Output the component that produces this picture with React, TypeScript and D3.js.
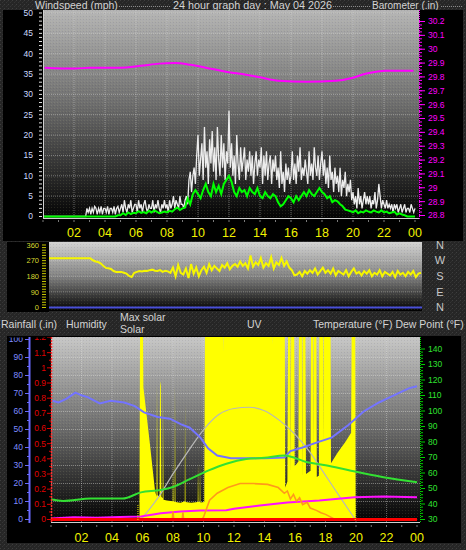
import React from "react";
import * as d3 from "d3";

const hourLabels = ["02", "04", "06", "08", "10", "12", "14", "16", "18", "20", "22", "00"];
const hourLabelHours = [2, 4, 6, 8, 10, 12, 14, 16, 18, 20, 22, 24];
const windTicks = [0, 5, 10, 15, 20, 25, 30, 35, 40, 45, 50];
const baroTicks = [28.8, 28.9, 29, 29.1, 29.2, 29.3, 29.4, 29.5, 29.6, 29.7, 29.8, 29.9, 30, 30.1, 30.2];
const dirTicks = [0, 90, 180, 270, 360];
const compassLabels = ["N", "E", "S", "W", "N"];
const humTicks = [0, 10, 20, 30, 40, 50, 60, 70, 80, 90, 100];
const rainTicks = [0, 0.1, 0.2, 0.3, 0.4, 0.5, 0.6, 0.7, 0.8, 0.9, 1, 1.1, 1.2];
const tempTicks = [30, 40, 50, 60, 70, 80, 90, 100, 110, 120, 130, 140];

// wind gust, mph, every 5 minutes from 00:00 to 24:00
const windGust = [
  0, 0, 0, 0, 0, 0, 0, 0, 0, 0, 0, 0,
  0, 0, 0, 0, 0, 0, 0, 0, 0, 0, 0, 0,
  0, 0, 0, 0, 0, 0, 0, 0, 0, 0, 2, 1,
  2, 0.5, 2, 1, 2.5, 2, 0.5, 2, 1, 2.5, 0.5, 2,
  2, 1, 2.5, 0.5, 2, 2, 1, 2.5, 0.5, 2, 2.5, 1,
  2, 3, 1, 4, 2, 1, 3, 2, 4, 1, 2, 3,
  3, 1, 4, 2, 3, 1, 3, 4, 2, 1, 3, 2,
  2, 4, 1, 3, 2, 4, 2, 1, 3, 2, 4, 2,
  3, 1, 4, 2, 3, 5, 2, 4, 3, 2, 5, 3,
  3, 2, 4, 5, 3, 9, 11, 6, 10, 12, 8, 15,
  20, 10, 14, 18, 9, 22, 12, 16, 8, 19, 13, 21,
  11, 17, 9, 22, 14, 10, 20, 12, 18, 9, 16, 13,
  26, 12, 18, 10, 15, 8, 20, 13, 9, 17, 11, 14,
  17, 9, 14, 11, 16, 10, 15, 8, 13, 16, 10, 14,
  12, 17, 8, 15, 10, 16, 9, 13, 15, 8, 14, 11,
  15, 9, 12, 7, 16, 8, 11, 6, 13, 9, 12, 8,
  10, 16, 9, 13, 8, 15, 11, 17, 9, 12, 10, 14,
  11, 8, 16, 10, 13, 9, 17, 12, 10, 15, 9, 13,
  16, 10, 14, 8, 12, 7, 15, 9, 11, 6, 12, 8,
  10, 6, 12, 5, 9, 7, 11, 5, 8, 6, 9, 4,
  6, 3, 5, 2, 7, 3, 5, 2, 4, 6, 3, 5,
  3, 5, 2, 4, 3, 6, 2, 4, 8, 5, 2, 4,
  3, 2, 4, 2, 3, 2, 3, 1, 3, 2, 3, 1,
  2, 3, 1, 2, 3, 1, 2, 2, 1, 3, 2, 1,
  2,
];

// average wind speed, mph, every 10 minutes
const windSpeed = [
  0, 0, 0, 0, 0, 0,
  0, 0, 0, 0, 0, 0,
  0, 0, 0, 0, 0, 0,
  0, 0, 0, 0, 0, 0,
  0, 0, 0, 0, 0, 0.3,
  0.3, 0.8, 0.4, 1, 0.6, 0.9,
  0.8, 1.3, 0.9, 1.1, 0.8, 1.4,
  1, 1.5, 1.2, 0.8, 1, 1.2,
  1, 1.4, 1.2, 1.8, 2.2, 1.6,
  2, 2.2, 4.5, 3, 5.5, 6.5,
  5.5, 4.5, 6.5, 8, 6, 5,
  8, 6, 7.5, 5.5, 8, 9,
  10, 8.5, 6, 5, 7, 6,
  6.5, 5, 7, 6, 5.5, 7,
  5, 4.5, 6, 5, 4.5, 5.5,
  5, 3.5, 2.5, 3, 4, 5,
  4.5, 3.5, 5, 4, 5, 6,
  5, 6.5, 5.5, 5, 6, 7,
  6, 5.5, 4.5, 5, 3.5, 4,
  3.7, 3, 2.5, 1.7, 1.5, 1.3,
  1, 1.5, 0.8, 1.2, 1, 1.5,
  1.2, 1, 1.5, 1.2, 1, 1.5,
  1, 1.2, 0.8, 1, 1.2, 0.5,
  0.8, 0.5, 0.3, 0, 0, 0,
  0,
];

// wind direction, degrees, every 10 minutes
const windDir = [
  283, 283, 283, 283, 283, 283,
  283, 283, 283, 283, 283, 283,
  283, 283, 283, 283, 283, 272,
  265, 262, 255, 240, 228, 226,
  222, 210, 205, 205, 205, 200,
  195, 182, 176, 200, 205, 210,
  208, 212, 210, 215, 218, 212,
  210, 215, 205, 212, 208, 200,
  230, 180, 245, 200, 190, 225,
  170, 250, 195, 230, 180, 215,
  235, 200, 250, 215, 240, 225,
  210, 245, 230, 255, 220, 240,
  250, 235, 265, 240, 255, 225,
  300, 235, 260, 245, 285, 230,
  255, 240, 290, 225, 260, 245,
  285, 240, 265, 230, 215, 185,
  190, 205, 180, 210, 195, 215,
  200, 225, 190, 210, 230, 200,
  215, 195, 225, 185, 210, 200,
  190, 215, 180, 205, 225, 195,
  205, 185, 210, 195, 215, 180,
  200, 190, 215, 180, 205, 195,
  185, 205, 175, 210, 190, 200,
  180, 205, 190, 210, 175, 195,
  200,
];

const baroHours = [0.1, 2.1, 3.0, 5.0, 6.3, 7.5, 8.5, 9.5, 10.5, 11.8, 13.1, 13.9, 15.2, 17.0, 18.9, 20.0, 20.8, 21.5, 22.1, 23.9];
const baroValues = [29.867, 29.86, 29.867, 29.867, 29.88, 29.896, 29.9, 29.888, 29.867, 29.838, 29.816, 29.8, 29.772, 29.765, 29.772, 29.794, 29.823, 29.838, 29.845, 29.845];

const humHours = [0.1, 0.5, 1.0, 1.6, 2.0, 2.4, 3.2, 3.9, 4.8, 5.5, 6.1, 7.0, 7.8, 8.5, 9.1, 9.8, 10.3, 10.9, 11.8, 12.9, 14.0, 15.3, 15.7, 16.5, 17.5, 18.4, 19.5, 20.5, 21.5, 22.0, 23.0, 23.5, 24.0];
const humValues = [66, 65, 67, 70.5, 69, 68, 64.5, 66, 65, 63, 59.5, 57, 56, 53, 51, 45.5, 39.5, 35.5, 34, 34, 34, 34.5, 38, 40, 43, 45.5, 52.5, 60, 65, 67, 71, 73, 74];

const tempHours = [0, 0.8, 2.6, 4.7, 5.9, 7.2, 8.0, 9.1, 10.3, 11.5, 12.8, 14.0, 15.3, 16.8, 18.0, 19.6, 21.8, 24.0];
const tempValues = [43, 42, 43.5, 43.5, 47.5, 49, 51, 56, 61.5, 66, 69, 69.8, 71.3, 67, 65, 61.6, 57.3, 54];

const dewHours = [0, 1.5, 3.0, 4.5, 5.9, 7.2, 8.5, 9.8, 11.5, 12.0, 13.7, 15.5, 17.6, 19.9, 21.8, 24.0];
const dewValues = [30.6, 31.5, 31.2, 31.6, 32, 34, 35.2, 35.8, 36, 37, 39, 41, 42.3, 44.4, 44.8, 44.4];

const uvHours = [0, 7.95, 8.0, 8.05, 8.6, 8.65, 8.7, 9.9, 10.0, 10.4, 10.9, 11.6, 12.4, 13.3, 14.2, 14.9, 15.3, 15.5, 15.7, 15.9, 16.1, 16.3, 16.5, 16.8, 17.0, 17.4, 17.7, 18.0, 18.5, 18.6, 24];
const uvValues = [0, 0, 0.7, 0, 0, 0.6, 0, 0, 0.2, 1.7, 2.3, 2.8, 3.15, 3.15, 3.08, 2.8, 2.3, 2.5, 1.8, 2.2, 1.6, 1.9, 1.3, 1.5, 1.0, 0.8, 0.6, 0.45, 0.1, 0, 0];

const solarHours = [0, 5.8, 5.84, 6.03, 6.06, 6.45, 6.82, 6.92, 6.95, 6.99, 7.12, 7.15, 7.2, 7.24, 7.32, 7.34, 7.38, 7.6, 7.98, 8.0, 8.03, 8.11, 8.13, 8.16, 8.5, 8.77, 8.79, 8.82, 9.2, 9.62, 9.64, 9.67, 9.75, 9.77, 9.8, 10.05, 10.1, 11.28, 11.3, 11.33, 14.5, 14.52, 14.55, 15.33, 15.36, 15.5, 15.55, 15.7, 15.72, 15.75, 15.95, 15.98, 16.22, 16.26, 16.45, 16.47, 16.5, 16.68, 16.72, 17.02, 17.05, 17.2, 17.22, 17.24, 17.4, 17.43, 17.57, 17.6, 17.85, 17.87, 17.9, 18.33, 18.36, 18.8, 19.3, 19.68, 19.72, 19.95, 19.98, 24];
const solarValues = [0, 0, 1300, 1300, 870, 530, 190, 150, 900, 160, 150, 910, 880, 150, 140, 870, 130, 125, 120, 390, 120, 115, 890, 115, 110, 120, 765, 115, 110, 115, 370, 115, 115, 370, 112, 115, 1300, 1300, 1100, 1300, 1300, 1150, 1300, 1300, 210, 250, 1300, 1300, 300, 1300, 1300, 350, 380, 1300, 1300, 260, 1300, 1300, 300, 320, 1300, 1300, 420, 1300, 1300, 280, 290, 1300, 1300, 500, 1300, 1300, 370, 440, 510, 570, 1300, 1300, 0, 0];

const maxSolarHours = [5.9, 7, 8, 9, 10, 11, 12, 13, 14, 15, 16, 17, 18, 19, 19.95];
const maxSolarValues = [0, 140, 300, 450, 590, 690, 730, 738, 715, 650, 560, 440, 290, 140, 0];

const sunMarkers = [5.7, 19.95];

const rainHours = [0, 24];
const rainValues = [0, 0];

const fmt = (v: number) => String(+v.toFixed(2));

export default function App() {
  const xTop = d3.scaleLinear().domain([0, 24]).range([43, 415]);
  const yWind = d3.scaleLinear().domain([0, 50]).range([216.5, 13]);
  const yBaro = d3.scaleLinear().domain([28.8, 30.2]).range([215.5, 21.5]);
  const xMid = d3.scaleLinear().domain([0, 24]).range([49, 421]);
  const yDir = d3.scaleLinear().domain([0, 360]).range([307.5, 245]);
  const xBot = d3.scaleLinear().domain([0, 24]).range([51, 417]);
  const yHum = d3.scaleLinear().domain([0, 100]).range([519.5, 339.5]);
  const yRain = d3.scaleLinear().domain([0, 1.2]).range([519.5, 337.5]);
  const yTemp = d3.scaleLinear().domain([30, 140]).range([519.5, 349]);
  const ySolar = d3.scaleLinear().domain([0, 1200]).range([519.5, 337]);
  const yUV = d3.scaleLinear().domain([0, 16]).range([519.5, 337]);

  const idxLine = (arr: number[], step: number, x: any, y: any) =>
    d3.line<number>().x((_, i) => x(i * step)).y((d) => y(d))(arr) || "";
  const pairLine = (hrs: number[], vals: number[], x: any, y: any, curve: any = d3.curveLinear) =>
    d3.line<number>().curve(curve).x((_, i) => x(hrs[i])).y((d) => y(d))(vals) || "";
  const solarArea =
    d3.area<number>().x((_, i) => xBot(solarHours[i])).y0(ySolar(0)).y1((d) => ySolar(d))(solarValues) || "";

  const top = { x0: 43, x1: 419, y0: 10, y1: 219 };
  const mid = { x0: 49, x1: 422, y0: 242, y1: 311 };
  const bot = { x0: 51, x1: 420, y0: 337, y1: 523 };
  const font = "'Liberation Sans', Arial, sans-serif";
  const hours = d3.range(0, 25);
  const windMinor = d3.range(0, 51);
  const baroMinor = d3.range(0, 57).map((i) => 28.8 + i * 0.025);
  const dirMinor = d3.range(0, 25).map((i) => i * 15);
  const humMinor = d3.range(0, 21).map((i) => i * 5);
  const rainMinor = d3.range(0, 25).map((i) => i * 0.05);
  const tempMinor = d3.range(0, 56).map((i) => 30 + i * 2);

  return (
    <svg width={466} height={550} style={{ position: "absolute", left: 0, top: 0 }} fontFamily={font}>
      <defs>
        <pattern id="noise" width="4" height="4" patternUnits="userSpaceOnUse">
          <rect width="4" height="4" fill="#262626" />
          <rect x="0" y="0" width="1" height="1" fill="#3e3e3e" />
          <rect x="2" y="2" width="1" height="1" fill="#353535" />
          <rect x="3" y="1" width="1" height="1" fill="#2f2f2f" />
        </pattern>
        <pattern id="stipple" width="3" height="3" patternUnits="userSpaceOnUse">
          <rect x="0" y="0" width="1" height="1" fill="#d8d8a0" fillOpacity="0.12" />
          <rect x="2" y="1" width="1" height="1" fill="#000" fillOpacity="0.08" />
        </pattern>
        <linearGradient id="gTop" x1="0" y1="0" x2="0" y2="1">
          <stop offset="0" stopColor="#b6b6b6" />
          <stop offset="0.45" stopColor="#6e6e6e" />
          <stop offset="1" stopColor="#020202" />
        </linearGradient>
        <linearGradient id="gMid" x1="0" y1="0" x2="0" y2="1">
          <stop offset="0" stopColor="#d4d4d4" />
          <stop offset="0.5" stopColor="#828282" />
          <stop offset="1" stopColor="#000000" />
        </linearGradient>
        <linearGradient id="gBot" x1="0" y1="0" x2="0" y2="1">
          <stop offset="0" stopColor="#c8c8c8" />
          <stop offset="0.5" stopColor="#6a6a6a" />
          <stop offset="1" stopColor="#000000" />
        </linearGradient>
        <clipPath id="cTop"><rect x={top.x0} y={top.y0} width={top.x1 - top.x0} height={top.y1 - top.y0} /></clipPath>
        <clipPath id="cMid"><rect x={mid.x0} y={mid.y0} width={mid.x1 - mid.x0} height={mid.y1 - mid.y0} /></clipPath>
        <clipPath id="cBot"><rect x={bot.x0} y={bot.y0} width={bot.x1 - bot.x0} height={bot.y1 - bot.y0} /></clipPath>
        <clipPath id="cBotPanel"><rect x={0} y={337.5} width={466} height={214} /></clipPath>
      </defs>

      <rect x={0} y={0} width={466} height={550} fill="url(#noise)" />

      {/* ---------- title row ---------- */}
      <g fontSize={10.5} fill="#d4d4d4">
        <text x={35} y={9.3}>Windspeed (mph)</text>
        <text x={173} y={9.3} fontSize={10.8}>24 hour graph day : May 04 2026</text>
        <text x={372} y={9.3} fontSize={10}>Barometer (.in)</text>
      </g>
      <g stroke="#8a8a8a" strokeDasharray="1 1" strokeWidth={1}>
        <line x1={119} x2={171} y1={6.5} y2={6.5} />
        <line x1={331} x2={370} y1={6.5} y2={6.5} />
        <line x1={441} x2={462} y1={6.5} y2={6.5} />
      </g>

      {/* ---------- top panel ---------- */}
      <rect x={3} y={10} width={460} height={231} fill="#000" />
      <rect x={top.x0} y={top.y0} width={top.x1 - top.x0} height={top.y1 - top.y0} fill="url(#gTop)" />
      <rect x={top.x0} y={top.y0} width={top.x1 - top.x0} height={top.y1 - top.y0} fill="url(#stipple)" />
      <g stroke="#d8d8d8" strokeOpacity={0.45} strokeDasharray="1 1">
        {hourLabelHours.slice(0, 11).map((h) => (
          <line key={"tv" + h} x1={xTop(h)} x2={xTop(h)} y1={top.y0} y2={top.y1} />
        ))}
        {windTicks.slice(1).map((v) => (
          <line key={"th" + v} x1={top.x0} x2={top.x1} y1={yWind(v)} y2={yWind(v)} />
        ))}
      </g>
      <g clipPath="url(#cTop)" fill="none">
        <path d={idxLine(windGust, 1 / 12, xTop, yWind)} stroke="#ececec" strokeWidth={1.3} />
        <path d={idxLine(windSpeed, 1 / 6, xTop, yWind)} stroke="#00ff00" strokeWidth={2} />
        <path d={pairLine(baroHours, baroValues, xTop, yBaro, d3.curveMonotoneX)} stroke="#ff00ff" strokeWidth={2} />
      </g>
      <line x1={top.x0 + 0.5} x2={top.x0 + 0.5} y1={top.y0} y2={top.y1} stroke="#d0d0d0" />
      <line x1={top.x0} x2={top.x1} y1={top.y1 - 0.5} y2={top.y1 - 0.5} stroke="#d0d0d0" />
      <line x1={top.x1 + 0.5} x2={top.x1 + 0.5} y1={top.y0} y2={top.y1} stroke="#ff00ff" strokeDasharray="1 1" />
      <g stroke="#e0e0e0">
        {windMinor.map((v) => (
          <line key={"wm" + v} x1={39} x2={42} y1={yWind(v)} y2={yWind(v)} />
        ))}
      </g>
      <g fontSize={8.5} fill="#cddaff" textAnchor="end">
        {windTicks.map((v) => (
          <text key={"wl" + v} x={33} y={yWind(v)} dy="0.35em">{v}</text>
        ))}
      </g>
      <g stroke="#ff00ff">
        {baroMinor.map((v, i) => (
          <line key={"bm" + i} x1={419} x2={422} y1={yBaro(v)} y2={yBaro(v)} />
        ))}
        {baroTicks.map((v) => (
          <line key={"bt" + v} x1={419} x2={425} y1={yBaro(v)} y2={yBaro(v)} />
        ))}
      </g>
      <g fontSize={8.5} fill="#ff00ff">
        {baroTicks.map((v) => (
          <text key={"bl" + v} x={428} y={yBaro(v)} dy="0.35em">{fmt(v)}</text>
        ))}
      </g>
      <g stroke="#7a7a7a">
        {hours.map((h) => (
          <line key={"tx" + h} x1={xTop(h)} x2={xTop(h)} y1={220} y2={222} />
        ))}
      </g>
      <g fontSize={12.5} fill="#f2f200" textAnchor="middle">
        {hourLabelHours.map((h, i) => (
          <text key={"txl" + h} x={xTop(h)} y={237}>{hourLabels[i]}</text>
        ))}
      </g>

      {/* ---------- middle panel (direction) ---------- */}
      <rect x={7} y={242} width={42} height={70} fill="#000" />
      <rect x={mid.x0} y={mid.y0} width={mid.x1 - mid.x0} height={mid.y1 - mid.y0} fill="url(#gMid)" />
      <rect x={mid.x0} y={mid.y0} width={mid.x1 - mid.x0} height={mid.y1 - mid.y0} fill="url(#stipple)" />
      <g stroke="#e0e0e0" strokeOpacity={0.35} strokeDasharray="1 1">
        {[90, 180, 270].map((v) => (
          <line key={"mh" + v} x1={mid.x0} x2={mid.x1} y1={yDir(v)} y2={yDir(v)} />
        ))}
      </g>
      <g clipPath="url(#cMid)" fill="none">
        <line x1={mid.x0} x2={mid.x1} y1={yDir(0)} y2={yDir(0)} stroke="#4a50d8" strokeWidth={2} />
        <path d={idxLine(windDir, 1 / 6, xMid, yDir)} stroke="#f6f600" strokeWidth={2} />
      </g>
      <g stroke="#c8c800">
        {dirMinor.map((v) => (
          <line key={"dm" + v} x1={42} x2={46} y1={yDir(v)} y2={yDir(v)} />
        ))}
      </g>
      <g fontSize={7.5} fill="#d8d830" textAnchor="end">
        {dirTicks.map((v) => (
          <text key={"dl" + v} x={39} y={yDir(v)} dy="0.35em">{v}</text>
        ))}
      </g>
      <g fontSize={11} fill="#c8c8c8" textAnchor="middle">
        {dirTicks.map((v, i) => (
          <text key={"cl" + v} x={440} y={yDir(v)} dy="0.35em">{compassLabels[i]}</text>
        ))}
      </g>

      {/* ---------- labels row ---------- */}
      <g fontSize={10.5} fill="#d4d4d4">
        <text x={1} y={328}>Rainfall (.in)</text>
        <text x={66} y={328}>Humidity</text>
        <text x={120} y={321}>Max solar</text>
        <text x={120} y={332.5}>Solar</text>
        <text x={247} y={328}>UV</text>
        <text x={313} y={328}>Temperature (°F) Dew Point (°F)</text>
      </g>

      {/* ---------- bottom panel ---------- */}
      <rect x={7} y={336} width={454} height={207} fill="#000" />
      <rect x={bot.x0} y={bot.y0} width={bot.x1 - bot.x0} height={bot.y1 - bot.y0} fill="url(#gBot)" />
      <rect x={bot.x0} y={bot.y0} width={bot.x1 - bot.x0} height={bot.y1 - bot.y0} fill="url(#stipple)" />
      <g stroke="#e0e0e0" strokeOpacity={0.4} strokeDasharray="1 1">
        {hourLabelHours.slice(0, 11).map((h) => (
          <line key={"bv" + h} x1={xBot(h)} x2={xBot(h)} y1={bot.y0} y2={bot.y1} />
        ))}
        {humTicks.slice(1, 10).map((v) => (
          <line key={"bh" + v} x1={bot.x0} x2={bot.x1} y1={yHum(v)} y2={yHum(v)} />
        ))}
      </g>
      <g clipPath="url(#cBot)" fill="none">
        <path d={solarArea} fill="#ffff00" stroke="none" />
        <path d={pairLine(maxSolarHours, maxSolarValues, xBot, ySolar, d3.curveMonotoneX)} stroke="#b8b8b8" strokeWidth={1.2} />
        <path d={pairLine(humHours, humValues, xBot, yHum)} stroke="#7474ff" strokeWidth={2} />
        <path d={pairLine(tempHours, tempValues, xBot, yTemp, d3.curveMonotoneX)} stroke="#33e033" strokeWidth={2} />
        <path d={pairLine(dewHours, dewValues, xBot, yTemp)} stroke="#ff10ff" strokeWidth={2} />
        <path d={pairLine(uvHours, uvValues, xBot, yUV)} stroke="#ff9a1a" strokeWidth={1.6} />
        <path d={pairLine(rainHours, rainValues, xBot, yRain)} stroke="#ff0000" strokeWidth={3} />
      </g>
      <g stroke="#e8e800" strokeDasharray="1 1">
        {sunMarkers.map((h) => (
          <line key={"sm" + h} x1={xBot(h)} x2={xBot(h)} y1={505} y2={520} />
        ))}
      </g>
      <line x1={bot.x0} x2={bot.x1} y1={bot.y1 - 0.5} y2={bot.y1 - 0.5} stroke="#d0d0d0" />
      <line x1={bot.x0 + 0.5} x2={bot.x0 + 0.5} y1={bot.y0} y2={bot.y1} stroke="#ff3030" strokeDasharray="2 1" strokeWidth={1.5} />
      <line x1={bot.x1 + 0.5} x2={bot.x1 + 0.5} y1={bot.y0} y2={bot.y1} stroke="#00d000" strokeDasharray="1 1" />
      <line x1={29.5} x2={29.5} y1={bot.y0} y2={bot.y1} stroke="#6a6aff" strokeWidth={2} />
      <g clipPath="url(#cBotPanel)">
        <g stroke="#6a6aff">
          {humMinor.map((v) => (
            <line key={"hm" + v} x1={v % 10 === 0 ? 25 : 27} x2={29} y1={yHum(v)} y2={yHum(v)} />
          ))}
        </g>
        <g fontSize={8.5} fill="#7e8cff" textAnchor="end">
          {humTicks.map((v) => (
            <text key={"hl" + v} x={23} y={yHum(v)} dy="0.35em">{v}</text>
          ))}
        </g>
        <g stroke="#e00000">
          {rainMinor.map((v, i) => (
            <line key={"rm" + i} x1={i % 2 === 0 ? 47 : 49} x2={51} y1={yRain(v)} y2={yRain(v)} />
          ))}
        </g>
        <g fontSize={8.5} fill="#e00000" textAnchor="end">
          {rainTicks.map((v) => (
            <text key={"rl" + v} x={46} y={yRain(v)} dy="0.35em">{fmt(v)}</text>
          ))}
        </g>
        <g stroke="#00d000">
          {tempMinor.map((v) => (
            <line key={"tm" + v} x1={421} x2={v % 10 === 0 ? 425 : 423} y1={yTemp(v)} y2={yTemp(v)} />
          ))}
        </g>
        <g fontSize={8.5} fill="#30e030">
          {tempTicks.map((v) => (
            <text key={"tl" + v} x={428} y={yTemp(v)} dy="0.35em">{v}</text>
          ))}
        </g>
      </g>
      <g stroke="#7a7a7a">
        {hours.map((h) => (
          <line key={"bx" + h} x1={xBot(h)} x2={xBot(h)} y1={525} y2={527} />
        ))}
      </g>
      <g fontSize={12.5} fill="#f2f200" textAnchor="middle">
        {hourLabelHours.map((h, i) => (
          <text key={"bxl" + h} x={xBot(h)} y={541.5}>{hourLabels[i]}</text>
        ))}
      </g>
    </svg>
  );
}
